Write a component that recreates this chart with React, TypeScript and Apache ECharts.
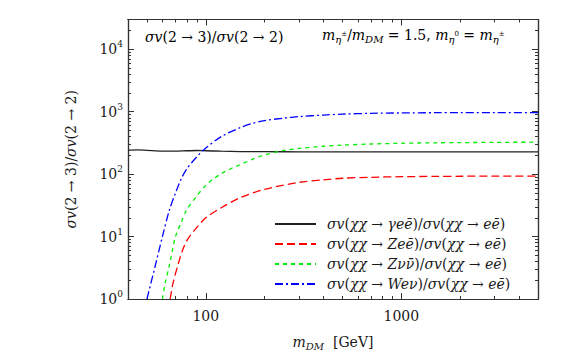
import React, { useEffect, useRef } from 'react';
import * as echarts from 'echarts';

// ---- axis ranges & ticks ----
const xMin = 40;
const xMax = 5000;
const yMin = 1;
const yMax = 30000;
const xMajorTicks = [100, 1000];
const xMinorTicks = [50, 60, 70, 80, 90, 200, 300, 400, 500, 600, 700, 800, 900, 2000, 3000, 4000];
const yMajorTicks = [1, 10, 100, 1000, 10000];
const yMinorTicks = [
  2, 3, 4, 5, 6, 7, 8, 9,
  20, 30, 40, 50, 60, 70, 80, 90,
  200, 300, 400, 500, 600, 700, 800, 900,
  2000, 3000, 4000, 5000, 6000, 7000, 8000, 9000,
  20000,
];

// ---- series (m_DM in GeV, ratio) ----
const gammaMass = [40, 45, 50, 60, 70, 80, 90, 100, 120, 150, 200, 300, 500, 1000, 2000, 5000];
const gammaRatio = [243, 245, 241, 234, 233, 237, 239, 237, 233, 230, 229, 228, 228, 228, 228, 228];

const zeeMass = [65.7, 68, 72, 76, 81, 90, 100, 120, 150, 200, 300, 400, 500, 700, 1000, 1500, 2000, 3000, 5000];
const zeeRatio = [1, 1.8, 3.5, 6, 9.2, 14, 20, 29, 42, 57, 74, 81, 86, 89, 91, 92, 92.5, 93, 93];

const zvvMass = [60, 62, 65, 70, 75, 80, 90, 100, 110, 120, 135, 150, 175, 200, 250, 300, 400, 500, 700, 1000, 1500, 2000, 3000, 5000];
const zvvRatio = [1, 1.8, 3.4, 10, 17, 27, 45, 66, 85, 102, 123, 142, 175, 203, 240, 258, 280, 292, 304, 312, 318, 320, 323, 325];

const wevMass = [50, 55, 60, 65, 70, 75, 80, 90, 100, 120, 150, 175, 200, 250, 300, 400, 500, 700, 1000, 1500, 2000, 3000, 5000];
const wevRatio = [1, 3.3, 10, 26, 50, 85, 122, 190, 262, 400, 555, 655, 720, 790, 835, 885, 915, 942, 956, 964, 967, 969, 970];

const seriesNames = ['gamma', 'zee', 'zvv', 'wev'];
const legendLabels: Record<string, string> = {
  gamma: '{i|σv}{r|(}{i|χχ}{r| → }{i|γeē}{r|)/}{i|σv}{r|(}{i|χχ}{r| → }{i|eē}{r|)}',
  zee: '{i|σv}{r|(}{i|χχ}{r| → }{i|Zeē}{r|)/}{i|σv}{r|(}{i|χχ}{r| → }{i|eē}{r|)}',
  zvv: '{i|σv}{r|(}{i|χχ}{r| → }{i|Zνν̄}{r|)/}{i|σv}{r|(}{i|χχ}{r| → }{i|eē}{r|)}',
  wev: '{i|σv}{r|(}{i|χχ}{r| → }{i|Weν}{r|)/}{i|σv}{r|(}{i|χχ}{r| → }{i|eē}{r|)}',
};

const FONT = "'DejaVu Serif', serif";
const TXT = '#1a1a1a';
const FS = 14;
const rich: any = {
  i: { fontFamily: FONT, fontStyle: 'italic', fontSize: FS, color: TXT },
  r: { fontFamily: FONT, fontSize: FS, color: TXT },
  sub: { fontFamily: FONT, fontStyle: 'italic', fontSize: 10, color: TXT, padding: [8, 0, 0, 0] },
  subs: { fontFamily: FONT, fontSize: 7, color: TXT, padding: [0, 0, 2, 0] },
  b: { fontFamily: FONT, fontSize: FS, color: TXT },
  s: { fontFamily: FONT, fontSize: 9, color: TXT, padding: [0, 0, 10, 0] },
};

function zip(xs: number[], ys: number[]) {
  return xs.map((x, k) => [x, ys[k]]);
}

const FRAME = '#333';

function xAxisDef(position: 'top' | 'bottom', ticks: number[], len: number, labels: boolean) {
  return {
    type: 'log',
    logBase: 10,
    min: xMin,
    max: xMax,
    position,
    axisLine: { show: true, onZero: false, lineStyle: { color: FRAME, width: 1.2 } },
    axisTick: { show: true, inside: true, length: len, customValues: ticks, lineStyle: { color: FRAME, width: 1 } },
    axisLabel: labels
      ? {
          show: true,
          customValues: ticks,
          margin: 10,
          fontFamily: FONT,
          fontSize: FS,
          color: TXT,
          formatter: (v: number) => String(Math.round(v)),
        }
      : { show: false },
    splitLine: { show: false },
    minorTick: { show: false },
  };
}

function yAxisDef(position: 'left' | 'right', ticks: number[], len: number, labels: boolean) {
  return {
    type: 'log',
    logBase: 10,
    min: yMin,
    max: yMax,
    position,
    axisLine: { show: true, onZero: false, lineStyle: { color: FRAME, width: 1.2 } },
    axisTick: { show: true, inside: true, length: len, customValues: ticks, lineStyle: { color: FRAME, width: 1 } },
    axisLabel: labels
      ? {
          show: true,
          customValues: ticks,
          margin: 5,
          formatter: (v: number) => `{b|10}{s|${Math.round(Math.log10(v))}}`,
          rich,
        }
      : { show: false },
    splitLine: { show: false },
    minorTick: { show: false },
  };
}

export default function App() {
  const ref = useRef<HTMLDivElement>(null);
  useEffect(() => {
    document.body.style.margin = '0';
    if (!ref.current) return;
    const chart = echarts.init(ref.current, undefined, { renderer: 'svg' });

    const xMain: any = xAxisDef('bottom', xMajorTicks, 6, true);
    xMain.name = '{i|m}{sub|DM}{r|  [GeV]}';
    xMain.nameLocation = 'middle';
    xMain.nameGap = 34;
    xMain.nameTextStyle = { rich };

    const yMain: any = yAxisDef('left', yMajorTicks, 6, true);
    yMain.name = '{i|σv}{r|(2 → 3)/}{i|σv}{r|(2 → 2)}';
    yMain.nameLocation = 'middle';
    yMain.nameGap = 50;
    yMain.nameTextStyle = { rich };

    const lineStyles = [
      { color: '#222', width: 1.3, type: 'solid' },
      { color: '#ff0000', width: 1.3, type: [8, 4] },
      { color: '#00ee00', width: 1.3, type: [4, 4] },
      { color: '#0000ff', width: 1.3, type: [8, 3, 2, 3] },
    ];
    const datas = [zip(gammaMass, gammaRatio), zip(zeeMass, zeeRatio), zip(zvvMass, zvvRatio), zip(wevMass, wevRatio)];

    chart.setOption({
      animation: false,
      grid: { left: 128, right: 29, top: 19.5, bottom: 51, containLabel: false },
      xAxis: [
        xMain,
        xAxisDef('top', xMajorTicks, 6, false),
        xAxisDef('bottom', xMinorTicks, 3, false),
        xAxisDef('top', xMinorTicks, 3, false),
      ],
      yAxis: [
        yMain,
        yAxisDef('right', yMajorTicks, 6, false),
        yAxisDef('left', yMinorTicks, 3, false),
        yAxisDef('right', yMinorTicks, 3, false),
      ],
      legend: {
        orient: 'vertical',
        left: 274,
        top: 217,
        padding: 0,
        itemWidth: 41,
        itemHeight: 14,
        itemGap: 6,
        data: seriesNames,
        formatter: (name: string) => legendLabels[name],
        textStyle: { rich, padding: [0, 0, 0, 6] },
        itemStyle: { opacity: 0 },
        selectedMode: false,
      },
      graphic: [
        {
          type: 'text',
          left: 145,
          top: 30,
          style: { text: '{i|σv}{r|(2 → 3)/}{i|σv}{r|(2 → 2)}', rich },
        },
        {
          type: 'text',
          left: 322,
          top: 28,
          style: {
            text: '{i|m}{sub|η}{subs|±}{r|/}{i|m}{sub|DM}{r| = 1.5, }{i|m}{sub|η}{subs|0}{r| = }{i|m}{sub|η}{subs|±}',
            rich,
          },
        },
      ],
      series: seriesNames.map((n, k) => ({
        name: n,
        type: 'line',
        xAxisIndex: 0,
        yAxisIndex: 0,
        data: datas[k],
        showSymbol: false,
        symbol: 'none',
        smooth: 0.3,
        lineStyle: lineStyles[k],
        itemStyle: { color: lineStyles[k].color },
        z: 3,
      })),
    });
    return () => chart.dispose();
  }, []);
  return <div ref={ref} style={{ width: 567, height: 356 }} />;
}
